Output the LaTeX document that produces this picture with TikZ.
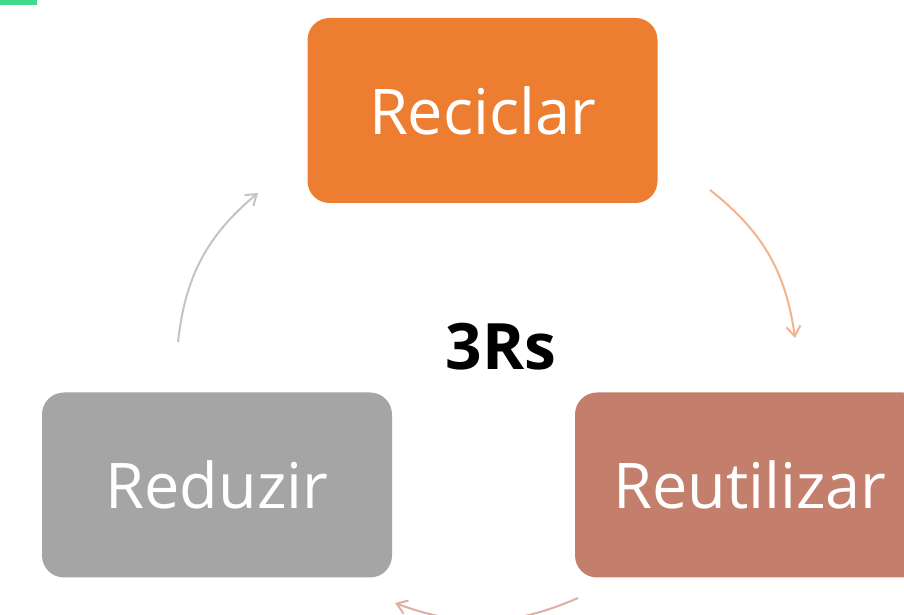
\documentclass[tikz,border=0pt]{standalone}
\usepackage{fontspec}
\setmainfont{Open Sans}
\usetikzlibrary{arrows.meta}
\definecolor{orangebox}{HTML}{ED7D31}
\definecolor{rosebox}{HTML}{C47F6C}
\definecolor{graybox}{HTML}{A5A5A5}
\definecolor{orangearr}{HTML}{F2B48C}
\definecolor{grayarr}{HTML}{C4C4C4}
\definecolor{rosearr}{HTML}{DDB0A6}
\definecolor{greenbar}{HTML}{3EDB8A}
\tikzset{
  rbox/.style={rounded corners=22pt, minimum width=350pt, minimum height=185pt,
    text=white, font=\fontsize{63}{66}\selectfont, inner sep=0pt},
  cyc/.style={line width=2pt, -{Straight Barb[length=10pt,width=14pt,line width=2pt]}},
}
\begin{document}
\begin{tikzpicture}[x=1pt,y=1pt]
\useasboundingbox (0,0) rectangle (904,615);
\fill[white] (0,0) rectangle (904,615);
\fill[greenbar] (0,610) rectangle (37,615);
\node[rbox, fill=orangebox] (rec) at (482.5,504.5) {Reciclar};
\node[rbox, fill=graybox] (red) at (217,130) {Reduzir};
\node[rbox, fill=rosebox] (reu) at (750,130) {Reutilizar};
\node[font=\fontsize{64}{66}\selectfont\bfseries] (c) at (501,268) {3Rs};
\coordinate (g1) at (178,273);
\coordinate (g2) at (258,422);
\coordinate (o1) at (710,425);
\coordinate (o2) at (795,277);
\coordinate (b1) at (578,17);
\coordinate (b2) at (395,12);
\draw[cyc, grayarr] (g1) to[bend left=22] (g2);
\draw[cyc, orangearr] (o1) to[bend left=22] (o2);
\draw[cyc, rosearr] (b1) to[bend left=22] (b2);
\end{tikzpicture}
\end{document}
